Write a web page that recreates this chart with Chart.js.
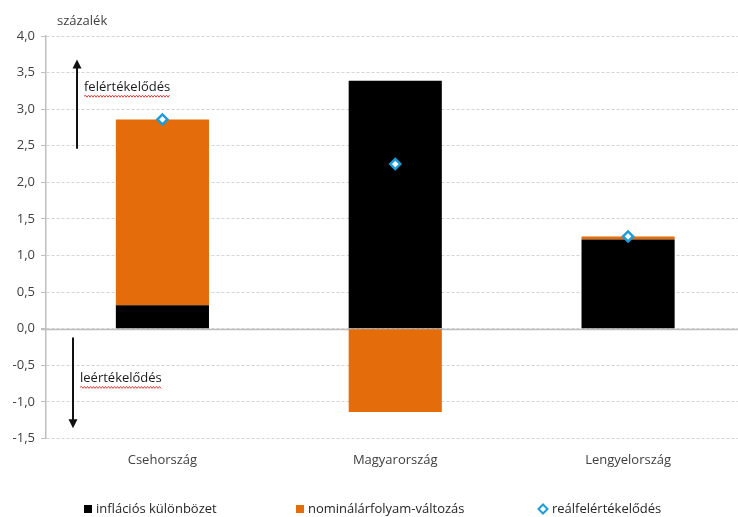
<!DOCTYPE html>
<html lang="hu">
<head>
<meta charset="utf-8">
<title>Reálárfolyam-változás</title>
<script src="https://cdn.jsdelivr.net/npm/chart.js@4.4.1/dist/chart.umd.min.js"></script>
<style>
  html, body { margin: 0; padding: 0; background: #fff; overflow: hidden; }
  #wrap { position: relative; width: 738px; height: 517px; overflow: hidden; }
  canvas { display: block; }
</style>
</head>
<body>
<div id="wrap"><canvas id="chart" width="752" height="517"></canvas></div>
<script>
// Országok
const categories = ['Csehország', 'Magyarország', 'Lengyelország'];
// Sorozatok (százalék)
const inflationGap = [0.32, 3.39, 1.22];        // inflációs különbözet
const nominalChange = [2.54, -1.14, 0.04];      // nominálárfolyam-változás
const realAppreciation = [2.86, 2.25, 1.26];    // reálfelértékelődés
// Függőleges tengely
const yMin = -1.5;
const yMax = 4.0;
const yStep = 0.5;

const seriesNames = ['inflációs különbözet', 'nominálárfolyam-változás', 'reálfelértékelődés'];
const unitLabel = 'százalék';
const upLabel = 'felértékelődés';
const downLabel = 'leértékelődés';

const FONT = '"Open Sans", "Liberation Sans", sans-serif';
const TEXT = '#404040';
const BLACK = '#000000';
const ORANGE = '#e46c0a';
const BLUE = '#1e9cd7';

function wavy(ctx, x1, x2, y) {
  ctx.save();
  ctx.strokeStyle = '#e8413a';
  ctx.lineWidth = 1;
  ctx.beginPath();
  let up = true;
  ctx.moveTo(x1, y);
  for (let x = x1 + 1.5; x <= x2; x += 1.5) {
    ctx.lineTo(x, up ? y - 1 : y + 1);
    up = !up;
  }
  ctx.stroke();
  ctx.restore();
}

function arrow(ctx, x, y1, y2) {
  // y1: start, y2: tip
  const dir = y2 < y1 ? -1 : 1;
  ctx.save();
  ctx.strokeStyle = '#111';
  ctx.fillStyle = '#111';
  ctx.lineWidth = 2;
  ctx.beginPath();
  ctx.moveTo(x, y1);
  ctx.lineTo(x, y2 - dir * 7);
  ctx.stroke();
  ctx.beginPath();
  ctx.moveTo(x, y2);
  ctx.lineTo(x - 4.5, y2 - dir * 9);
  ctx.lineTo(x + 4.5, y2 - dir * 9);
  ctx.closePath();
  ctx.fill();
  ctx.restore();
}

const decorations = {
  id: 'decorations',
  beforeDatasetsDraw(chart) {
    const { ctx, chartArea, scales } = chart;
    const y0 = Math.round(scales.y.getPixelForValue(0)) + 0.5;
    ctx.save();
    ctx.strokeStyle = '#bfbfbf';
    ctx.lineWidth = 1.5;
    ctx.beginPath();
    ctx.moveTo(chartArea.left - 5, y0);
    ctx.lineTo(chartArea.right, y0);
    ctx.stroke();
    ctx.restore();
  },
  afterDraw(chart) {
    const { ctx, chartArea, scales } = chart;
    const y = scales.y;
    const L = chartArea.left;

    ctx.save();
    ctx.font = '13px ' + FONT;
    ctx.fillStyle = TEXT;
    ctx.textBaseline = 'middle';
    ctx.textAlign = 'left';
    ctx.fillText(unitLabel, 57, 21);

    // felértékelődés / leértékelődés
    arrow(ctx, L + 31, y.getPixelForValue(2.46), y.getPixelForValue(3.68));
    arrow(ctx, L + 27, y.getPixelForValue(-0.12), y.getPixelForValue(-1.36));

    ctx.fillStyle = '#1a1a1a';
    const ty1 = y.getPixelForValue(3.30);
    ctx.fillText(upLabel, L + 38, ty1);
    wavy(ctx, L + 38, L + 38 + ctx.measureText(upLabel).width, ty1 + 9);
    const ty2 = y.getPixelForValue(-0.68);
    ctx.fillText(downLabel, L + 34, ty2);
    wavy(ctx, L + 34, L + 34 + ctx.measureText(downLabel).width, ty2 + 9);

    // jelmagyarázat
    const ly = 509;
    ctx.fillStyle = BLACK;
    ctx.fillRect(84, ly - 4, 8, 8);
    ctx.fillStyle = ORANGE;
    ctx.fillRect(296, ly - 4, 8, 8);
    ctx.strokeStyle = BLUE;
    ctx.lineWidth = 2;
    ctx.fillStyle = '#fff';
    ctx.beginPath();
    ctx.moveTo(543, ly - 4.5);
    ctx.lineTo(547.5, ly);
    ctx.lineTo(543, ly + 4.5);
    ctx.lineTo(538.5, ly);
    ctx.closePath();
    ctx.fill();
    ctx.stroke();
    ctx.fillStyle = '#262626';
    ctx.fillText(seriesNames[0], 96, ly);
    ctx.fillText(seriesNames[1], 308, ly);
    ctx.fillText(seriesNames[2], 552, ly);
    ctx.restore();
  }
};

new Chart(document.getElementById('chart'), {
  data: {
    labels: categories,
    datasets: [
      {
        type: 'line',
        label: seriesNames[2],
        data: realAppreciation,
        stack: 'real',
        showLine: false,
        pointStyle: 'rectRot',
        pointRadius: 5,
        pointBackgroundColor: '#ffffff',
        pointBorderColor: BLUE,
        pointBorderWidth: 2.5,
        order: 0
      },
      {
        type: 'bar',
        label: seriesNames[0],
        data: inflationGap,
        stack: 'bars',
        backgroundColor: BLACK,
        barPercentage: 0.4,
        categoryPercentage: 1,
        order: 1
      },
      {
        type: 'bar',
        label: seriesNames[1],
        data: nominalChange,
        stack: 'bars',
        backgroundColor: ORANGE,
        barPercentage: 0.4,
        categoryPercentage: 1,
        order: 2
      }
    ]
  },
  options: {
    responsive: false,
    animation: false,
    devicePixelRatio: 1,
    layout: { padding: { left: 0, right: 0, top: 36, bottom: 35 } },
    plugins: { legend: { display: false }, tooltip: { enabled: false } },
    scales: {
      x: {
        stacked: true,
        grid: { display: false, drawTicks: false },
        border: { display: false },
        ticks: { color: TEXT, font: { family: FONT, size: 13 }, padding: 14 }
      },
      y: {
        stacked: true,
        min: yMin,
        max: yMax,
        afterFit(scale) { scale.width = 46; },
        afterBuildTicks(scale) {
          const t = [];
          for (let v = yMin; v <= yMax + 1e-9; v += yStep) t.push({ value: Math.round(v * 10) / 10 });
          scale.ticks = t;
        },
        grid: {
          color: '#d4d4d4',
          tickColor: '#bfbfbf',
          tickLength: 5,
          tickBorderDash: [],
          lineWidth: 1
        },
        border: { display: true, color: '#bfbfbf', width: 1.5, dash: [3, 2] },
        ticks: {
          color: TEXT,
          font: { family: FONT, size: 13 },
          padding: 6,
          callback: (v) => Number(v).toFixed(1).replace('.', ',')
        }
      }
    }
  },
  plugins: [decorations]
});
</script>
</body>
</html>
